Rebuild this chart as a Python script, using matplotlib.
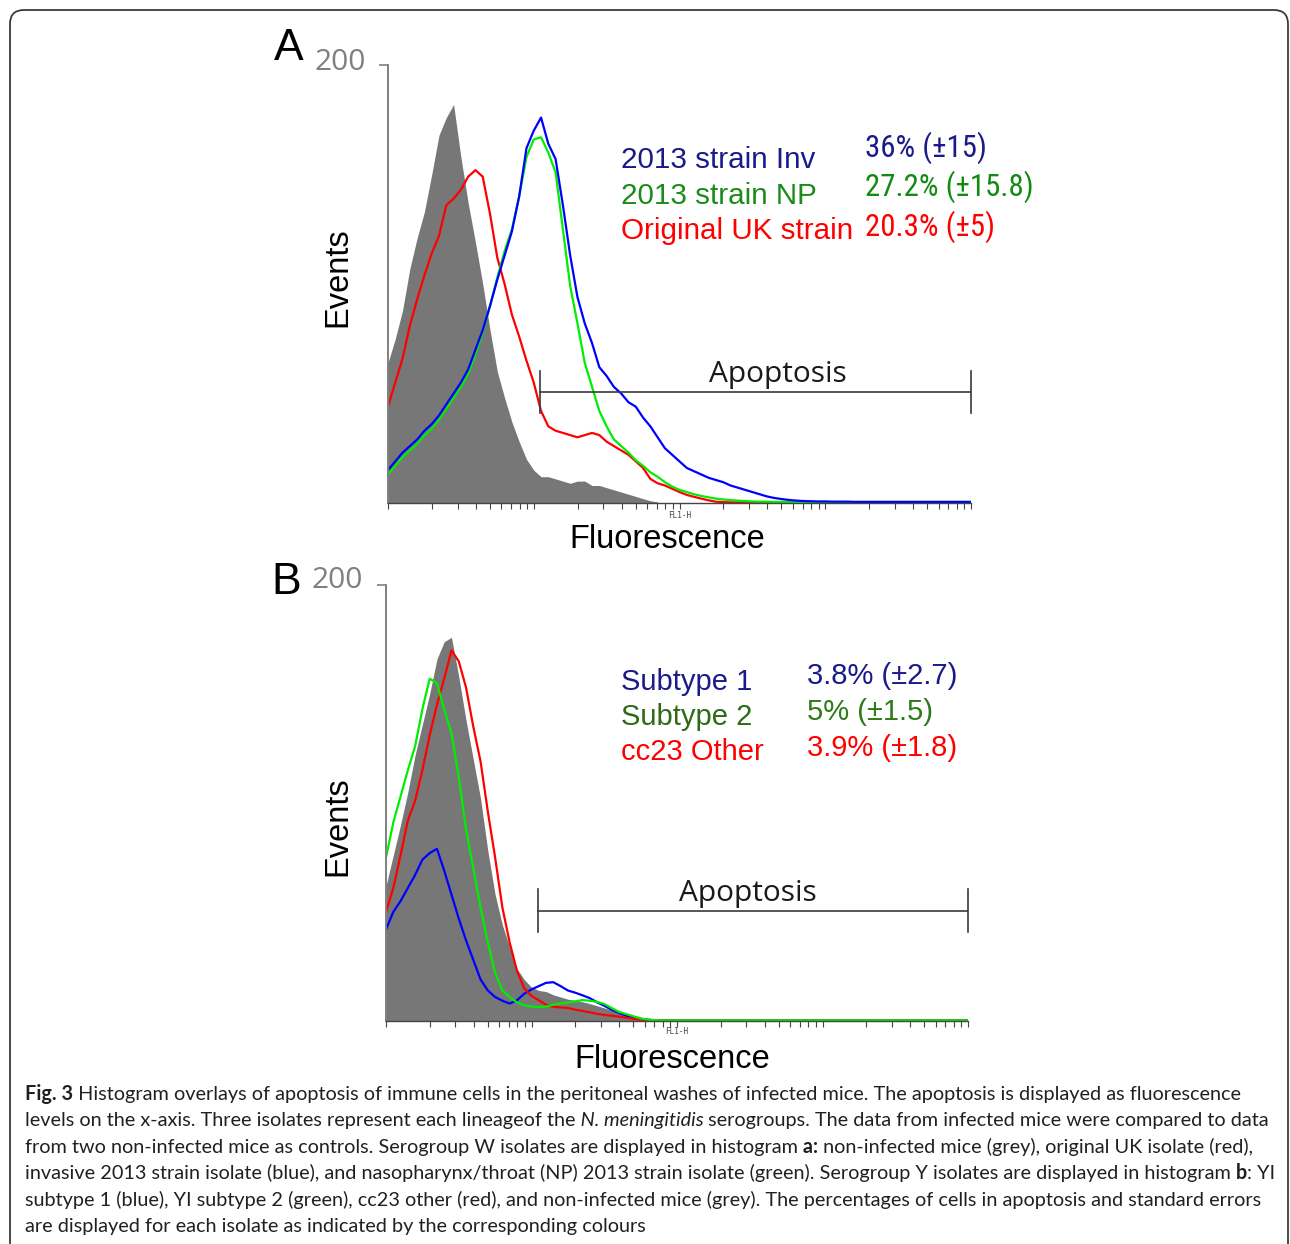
import numpy as np
import matplotlib
matplotlib.use("Agg")
import matplotlib.pyplot as plt
from matplotlib import font_manager
from matplotlib.patches import FancyBboxPatch
from matplotlib.transforms import IdentityTransform

W, H = 1290, 1244

# fluorescence channels: bin positions in decades (FL1-H, 10^0 .. 10^4)
fl_log = np.round(np.arange(81) * 0.05, 2)
fl = 10 ** fl_log

# ---- panel A (serogroup W) ----
a_control = [64, 75, 88, 107, 121, 133, 150, 168, 176, 182, 158, 137, 119, 100, 79, 60,
             48, 37, 28, 20, 15, 12, 12, 11, 10, 9, 10, 10, 8, 8, 7, 6, 5, 4, 3, 2, 1, 0.5]
a_uk = [44, 55, 66, 81, 93, 104, 114, 122, 136, 139, 143, 149, 152, 149, 132, 112,
        100, 86, 76, 65, 55, 42, 35, 33, 32, 31, 30, 31, 32, 31, 28, 26, 24, 22, 19, 16,
        11, 9, 8, 6.5, 5, 3.7, 2.8, 2, 1.2, 0.6, 0.4, 0.3, 0.3, 0.3, 0.3, 0.3, 0.3, 0.3,
        0.3, 0.3, 0.3, 0.3, 0.3, 0.3, 0.3, 0.3, 0.3, 0.3, 0.3, 0.3, 0.3, 0.3, 0.3, 0.3,
        0.3, 0.3, 0.3, 0.3, 0.3, 0.3, 0.3, 0.3, 0.3, 0.3, 0.3]
a_np = [13, 17, 21, 24, 27, 31, 34, 38, 43, 48, 53, 59, 68, 78, 90, 103, 115, 125, 140,
        158, 166, 167, 160, 151, 125, 99, 82, 64, 53, 42, 35, 29, 26, 23, 19.5, 17, 14, 12,
        9.5, 7.5, 6, 5, 4, 3.2, 2.6, 2, 1.6, 1.3, 1.1, 0.9, 0.7, 0.6, 0.6, 0.5, 0.5, 0.5,
        0.5, 0.5, 0.5, 0.5, 0.5, 0.5, 0.5, 0.5, 0.5, 0.5, 0.5, 0.5, 0.5, 0.5, 0.5, 0.5,
        0.5, 0.5, 0.5, 0.5, 0.5, 0.5, 0.5, 0.5, 0.5]
a_inv = [15, 19, 23, 26, 29, 33, 36, 40, 45, 50, 55, 61, 70, 79, 90, 102, 113, 124, 140,
         162, 170, 176, 164, 157, 136, 113, 94, 82, 73, 62, 58, 53, 50, 46, 44, 39, 35, 30,
         25, 22, 19, 16, 14.5, 13, 11.5, 10.5, 9.5, 8, 7, 6, 5, 4, 3, 2.3, 1.8, 1.4, 1.1,
         0.9, 0.8, 0.7, 0.7, 0.6, 0.6, 0.6, 0.5, 0.5, 0.5, 0.5, 0.5, 0.5, 0.5, 0.5, 0.5,
         0.5, 0.5, 0.5, 0.5, 0.5, 0.5, 0.5, 0.5]

# ---- panel B (serogroup Y) ----
b_control = [62, 76, 90, 105, 122, 136, 150, 166, 174, 176, 158, 138, 120, 102, 78, 58,
             44, 34, 24, 19, 15.5, 14, 13.5, 12, 11, 10, 9.5, 8.8, 8, 7, 6, 5, 4, 3, 2,
             1.2, 0.6, 0.3]
b_sub1 = [42, 50, 55, 61, 67, 74, 77, 79, 69, 58, 47, 37, 28, 19, 14, 11, 9.3, 8, 9.5,
          12.5, 14.5, 16, 17.5, 17.8, 16, 14, 13, 11.8, 10.5, 8.6, 7, 5.2, 3.7, 2.5, 1.5,
          1, 0.6, 0.3, 0.2, 0.2, 0.2, 0.2, 0.2, 0.2, 0.2, 0.2, 0.2, 0.2, 0.2, 0.2, 0.2,
          0.2, 0.2, 0.2, 0.2, 0.2, 0.2, 0.2, 0.2, 0.2, 0.2, 0.2, 0.2, 0.2, 0.2, 0.2, 0.2,
          0.2, 0.2, 0.2, 0.2, 0.2, 0.2, 0.2, 0.2, 0.2, 0.2, 0.2, 0.2, 0.2, 0.2]
b_cc23 = [50, 61, 76, 92, 101, 115, 131, 145, 157, 170, 165, 153, 135, 119, 96, 75, 52,
          36, 23, 15, 11.5, 9.5, 7.5, 6.5, 6.2, 6, 5.2, 4.6, 4, 3.3, 2.8, 2.4, 2, 1.5, 1,
          0.6, 0.4, 0.3, 0.3, 0.3, 0.3, 0.3, 0.3, 0.3, 0.3, 0.3, 0.3, 0.3, 0.3, 0.3, 0.3,
          0.3, 0.3, 0.3, 0.3, 0.3, 0.3, 0.3, 0.3, 0.3, 0.3, 0.3, 0.3, 0.3, 0.3, 0.3, 0.3,
          0.3, 0.3, 0.3, 0.3, 0.3, 0.3, 0.3, 0.3, 0.3, 0.3, 0.3, 0.3, 0.3, 0.3]
b_sub2 = [75, 91, 103, 115, 126, 143, 157, 155, 143, 132, 112, 88, 70, 52, 36, 22, 14,
          11, 8.5, 7.3, 6.6, 6.4, 6.6, 7.5, 8, 8.5, 9, 9.6, 9.3, 8.8, 7.8, 6, 4.2, 3.2,
          2.2, 1.2, 0.6, 0.4, 0.3, 0.3, 0.3, 0.3, 0.3, 0.3, 0.3, 0.3, 0.3, 0.3, 0.3, 0.3,
          0.3, 0.3, 0.3, 0.3, 0.3, 0.3, 0.3, 0.3, 0.3, 0.3, 0.3, 0.3, 0.3, 0.3, 0.3, 0.3,
          0.3, 0.3, 0.3, 0.3, 0.3, 0.3, 0.3, 0.3, 0.3, 0.3, 0.3, 0.3, 0.3, 0.3, 0.3]

a_labels = ["2013 strain Inv", "2013 strain NP", "Original UK strain"]
a_pcts = ["36% (\u00b115)", "27.2% (\u00b115.8)", "20.3% (\u00b15)"]
b_labels = ["Subtype 1", "Subtype 2", "cc23 Other"]
b_pcts = ["3.8% (\u00b12.7)", "5% (\u00b11.5)", "3.9% (\u00b11.8)"]

# apoptosis gate (FL1-H) and its height in events
gate_lo, gate_hi = 11.1, 1e4
gate_y, gate_ylo, gate_yhi = 50.5, 41, 60.5

GREY = "#777777"
SANS = ["Liberation Sans", "DejaVu Sans"]


def have_font(fam):
    try:
        font_manager.findfont(font_manager.FontProperties(family=fam),
                              fallback_to_default=False)
        return True
    except ValueError:
        return False


# panel A percentages are set in a narrow face in the original
narrow = next((f for f in ["Liberation Sans Narrow", "Arial Narrow", "Roboto Condensed"]
               if have_font(f)), None)
if narrow:
    pct_font, pct_size = [narrow, "Liberation Sans"], 22.2
else:
    pct_font, pct_size = SANS, 19.5


def fx(x):
    return x / W


def fy(y):
    return 1 - y / H


fig = plt.figure(figsize=(W / 100, H / 100), dpi=100)

# rounded frame round the figure
frame = FancyBboxPatch((10, -30), 1278, 1244 - 10 + 30,
                       boxstyle="round,pad=0,rounding_size=14",
                       transform=IdentityTransform(), fill=False,
                       ec="#3a3a3a", lw=1.3)
fig.patches.append(frame)

axA = fig.add_axes([fx(388), fy(503), (971 - 388) / W, (503 - 65) / H])
axB = fig.add_axes([fx(386), fy(1021), (968 - 386) / W, (1021 - 585) / H])


def draw_panel(ax, control, series):
    ax.fill_between(fl[:len(control)], control, color=GREY, lw=0, zorder=1)
    for vals, col in series:
        ax.plot(fl, vals, color=col, lw=1.6, zorder=2)
    # gate bar
    ax.plot([gate_lo, gate_hi], [gate_y, gate_y], color="#3a3a3a", lw=1.2, zorder=3)
    for gx in (gate_lo, gate_hi):
        ax.plot([gx, gx], [gate_ylo, gate_yhi], color="#3a3a3a", lw=1.2,
                zorder=3, clip_on=False)
    ax.set_xscale("log")
    ax.set_xlim(1, 1e4)
    ax.set_ylim(0, 200)
    for s in ("top", "right"):
        ax.spines[s].set_visible(False)
    ax.spines["left"].set_color("#808080")
    ax.spines["left"].set_linewidth(1.4)
    ax.spines["bottom"].set_color("#444444")
    ax.spines["bottom"].set_linewidth(1.0)
    ax.tick_params(axis="x", which="both", direction="out", length=4, width=0.8,
                   colors="#444444", labelbottom=False)
    ax.set_yticks([200])
    ax.tick_params(axis="y", length=6.5, width=1.2, colors="#808080", labelleft=False)
    ax.patch.set_alpha(0)


draw_panel(axA, a_control, [(a_uk, "#ff0000"), (a_np, "#00ee00"), (a_inv, "#0000ff")])
draw_panel(axB, b_control, [(b_sub1, "#0000ff"), (b_cc23, "#ff0000"), (b_sub2, "#00ee00")])


def T(x, y, s, **kw):
    kw.setdefault("family", SANS)
    return fig.text(fx(x), fy(y), s, **kw)


# panel letters, 200 labels, axis titles
T(289, 60, "A", fontsize=32, ha="center", va="baseline")
T(286, 594, "B", fontsize=32, ha="center", va="baseline")
T(366, 70, "200", fontsize=21.5, ha="right", va="baseline", color="#808080",
  family=["Open Sans", "DejaVu Sans"])
T(363, 588, "200", fontsize=21.5, ha="right", va="baseline", color="#808080",
  family=["Open Sans", "DejaVu Sans"])
T(338, 277, "Events", fontsize=23.5, rotation=90, ha="center", va="center")
T(338, 826, "Events", fontsize=23.5, rotation=90, ha="center", va="center")
T(667, 548, "Fluorescence", fontsize=23.5, ha="center", va="baseline")
T(672, 1068, "Fluorescence", fontsize=23.5, ha="center", va="baseline")
T(680, 515, "FL1-H", fontsize=5.5, ha="center", va="center", color="#444444",
  family=["DejaVu Sans Mono"])
T(677, 1032, "FL1-H", fontsize=5.5, ha="center", va="center", color="#444444",
  family=["DejaVu Sans Mono"])
T(778, 382, "Apoptosis", fontsize=21.5, ha="center", va="baseline", color="#1a1a1a",
  family=["Open Sans", "DejaVu Sans"])
T(748, 901, "Apoptosis", fontsize=21.5, ha="center", va="baseline", color="#1a1a1a",
  family=["Open Sans", "DejaVu Sans"])

# isolate labels with apoptosis percentages
a_cols = ["#1a1a8a", "#1a8c1a", "#ff0000"]
a_pct_cols = ["#1a1a8a", "#138a13", "#ff0000"]
for i, (lab, pct) in enumerate(zip(a_labels, a_pcts)):
    T(621, 168.5 + 35 * i, lab, fontsize=21.3, ha="left", va="baseline", color=a_cols[i])
    T(865, 156.5 + 39.5 * i, pct, fontsize=pct_size, ha="left", va="baseline",
      color=a_pct_cols[i], family=pct_font)

b_cols = ["#1a1a8a", "#2f6a17", "#ff0000"]
b_pct_cols = ["#1a1a8a", "#2f7a1a", "#ff0000"]
for i, (lab, pct) in enumerate(zip(b_labels, b_pcts)):
    T(621, 689.5 + 35.5 * i, lab, fontsize=21, ha="left", va="baseline", color=b_cols[i])
    T(807, 683.5 + 36 * i, pct, fontsize=21, ha="left", va="baseline", color=b_pct_cols[i])

# caption
N = "normal"
caption_lines = [
    [("Fig. 3", "bold", N),
     (" Histogram overlays of apoptosis of immune cells in the peritoneal washes of "
      "infected mice. The apoptosis is displayed as fluorescence", N, N)],
    [("levels on the x-axis. Three isolates represent each lineageof the", N, N),
     (" N. meningitidis", N, "italic"),
     (" serogroups. The data from infected mice were compared to data", N, N)],
    [("from two non-infected mice as controls. Serogroup W isolates are displayed in "
      "histogram", N, N), (" a:", "bold", N),
     (" non-infected mice (grey), original UK isolate (red),", N, N)],
    [("invasive 2013 strain isolate (blue), and nasopharynx/throat (NP) 2013 strain "
      "isolate (green). Serogroup Y isolates are displayed in histogram", N, N),
     (" b", "bold", N), (": YI", N, N)],
    [("subtype 1 (blue), YI subtype 2 (green), cc23 other (red), and non-infected mice "
      "(grey). The percentages of cells in apoptosis and standard errors", N, N)],
    [("are displayed for each isolate as indicated by the corresponding colours", N, N)],
]
cap_font = ["Lato", "DejaVu Sans"]
renderer = fig.canvas.get_renderer()


def draw_runs(x0, y0, runs, size):
    texts = []
    x = x0
    for s, wt, st in runs:
        t = fig.text(fx(x), fy(y0), s, fontsize=size, fontweight=wt, fontstyle=st,
                     family=cap_font, color="#231f20", ha="left", va="baseline")
        x += t.get_window_extent(renderer).width
        texts.append(t)
    return texts, x - x0


probe, w1 = draw_runs(25, 1100, caption_lines[0], 13)
for t in probe:
    t.remove()
cap_size = 13 * 1211 / w1
for i, runs in enumerate(caption_lines):
    draw_runs(25, 1100 + 26.4 * i, runs, cap_size)

fig.savefig("out.png", dpi=100)
